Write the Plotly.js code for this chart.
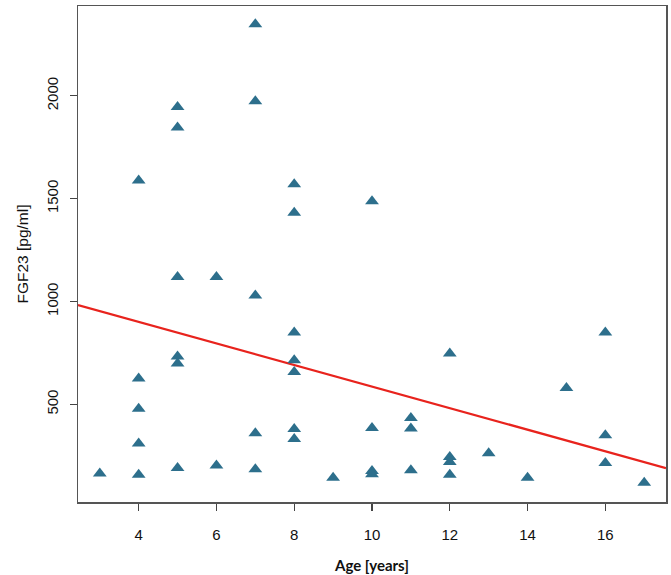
<!DOCTYPE html>
<html>
<head>
<meta charset="utf-8">
<script src="https://cdn.plot.ly/plotly-3.0.1.min.js"></script>
<style>
	body { margin: 0; background: #fff; }
	#crtFgf { width: 671px; height: 575px; }
</style>
</head>
<body>
<div id="crtFgf"></div>
<script>
// Age of each patient (years)
var age = [3,
	4, 4, 4, 4, 4,
	5, 5, 5, 5, 5, 5,
	6, 6,
	7, 7, 7, 7, 7,
	8, 8, 8, 8, 8, 8, 8,
	9,
	10, 10, 10, 10,
	11, 11, 11,
	12, 12, 12, 12,
	13, 14, 15,
	16, 16, 16,
	17];

// FGF23 level (pg/ml), same order as age
var fgf23 = [164,
	1589, 625, 479, 309, 158,
	1946, 1846, 1119, 733, 698, 190,
	1119, 203,
	2348, 1974, 1029, 359, 184,
	1570, 1432, 849, 714, 657, 380, 331,
	143,
	1487, 385, 176, 160,
	433, 382, 180,
	747, 244, 219, 158,
	262, 143, 579,
	849, 349, 215,
	119];

// regression line, at the axis ends
var fitX = [2.44, 17.56];
var fitY = [983, 190];

var xTicks = [4, 6, 8, 10, 12, 14, 16];
var yTicks = [500, 1000, 1500, 2000];

var fitLine = {
	x: fitX,
	y: fitY,
	mode: 'lines',
	type: 'scatter',
	line: { color: '#e8231d', width: 2.2 },
	hoverinfo: 'skip'
};

var points = {
	x: age,
	y: fgf23,
	mode: 'markers',
	type: 'scatter',
	marker: { symbol: 'triangle-up', size: 12, color: '#2d6f8c' }
};

var axisFont = { family: 'Liberation Sans, Arial, sans-serif', size: 15, color: '#111' };

var layout = {
	width: 671,
	height: 575,
	showlegend: false,
	plot_bgcolor: '#fff',
	paper_bgcolor: '#fff',
	margin: { l: 78, r: 5, t: 6, b: 73, pad: 0 },
	xaxis: {
		range: [2.44, 17.56],
		tickvals: xTicks,
		ticks: 'outside',
		ticklen: 7,
		tickwidth: 1.2,
		tickcolor: '#444',
		ticklabelstandoff: 11,
		tickfont: axisFont,
		showgrid: false,
		zeroline: false,
		showline: true,
		mirror: true,
		linecolor: '#555',
		linewidth: 1.5,
		title: {
			text: 'Age [years]',
			standoff: 19,
			font: { family: 'Lato, Open Sans, sans-serif', size: 15, color: '#111', weight: 'bold' }
		}
	},
	yaxis: {
		range: [25, 2437],
		tickvals: yTicks,
		tickangle: -90,
		ticks: 'outside',
		ticklen: 7,
		tickwidth: 1.2,
		tickcolor: '#444',
		ticklabelstandoff: 6,
		tickfont: axisFont,
		showgrid: false,
		zeroline: false,
		showline: true,
		mirror: true,
		linecolor: '#555',
		linewidth: 1.5,
		title: {
			text: 'FGF23 [pg/ml]',
			standoff: 11,
			font: { family: 'Liberation Sans, Arial, sans-serif', size: 15.5, color: '#111' }
		}
	}
};

Plotly.newPlot('crtFgf', [fitLine, points], layout, { displayModeBar: false, staticPlot: true });
</script>
</body>
</html>
